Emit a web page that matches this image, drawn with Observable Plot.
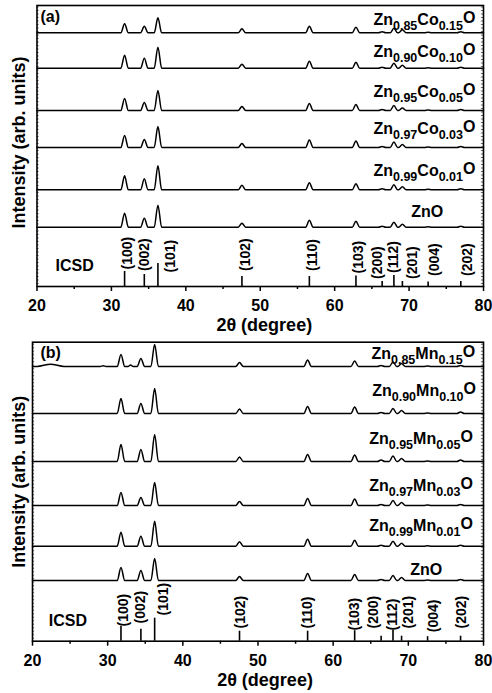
<!DOCTYPE html>
<html>
<head>
<meta charset="utf-8">
<script src="https://cdn.jsdelivr.net/npm/d3@7"></script>
<script src="https://cdn.jsdelivr.net/npm/@observablehq/plot@0.6"></script>
<style>
  body { margin: 0; background: #fff; }
  #chart { width: 492px; }
  #chart svg { display: block; }
  #chart svg text { font-weight: bold; fill: #000; }
</style>
</head>
<body>
<div id="chart"></div>
<script>
// Wurtzite ZnO reflections (ICSD reference pattern)
const hkl = ["(100)", "(002)", "(101)", "(102)", "(110)", "(103)", "(200)", "(112)", "(201)", "(004)", "(202)"];
const twoTheta = [31.77, 34.42, 36.25, 47.54, 56.60, 62.86, 66.38, 67.96, 69.10, 72.56, 76.95];
const icsdIntensity = [15, 12, 23, 10, 10, 10.5, 5, 11, 5, 4.5, 5];

// x axis ticks (degrees)
const xMajor = [20, 30, 40, 50, 60, 70, 80];
const xMinor = [25, 35, 45, 55, 65, 75];

// (a) Co-doped films: peak heights in hkl order, arb. units
const coNames = ["Zn_{0.85}Co_{0.15}O", "Zn_{0.90}Co_{0.10}O", "Zn_{0.95}Co_{0.05}O", "Zn_{0.97}Co_{0.03}O", "Zn_{0.99}Co_{0.01}O", "ZnO"];
const coZn085 = [9, 6.5, 15, 4, 6.5, 5.5, 1, 4.5, 3, 0.5, 1];
const coZn090 = [13, 10, 21, 4, 7, 6, 1, 5, 3, 0.5, 1];
const coZn095 = [12, 8, 20, 4, 7, 6, 1, 5, 2.5, 0.5, 1];
const coZn097 = [12, 8, 21, 4, 7.5, 6.5, 1, 5.5, 3, 0.5, 1];
const coZn099 = [14, 11, 24, 4.5, 7, 6, 1, 5, 3, 0.5, 1];
const coZnO   = [14, 9, 22, 4, 7, 6, 1, 5, 3, 0.5, 1];
const coStackOffset = [253.7, 218.3, 176, 139, 96.7, 59.3];

// (b) Mn-doped films: peak heights in hkl order, arb. units
const mnNames = ["Zn_{0.85}Mn_{0.15}O", "Zn_{0.90}Mn_{0.10}O", "Zn_{0.95}Mn_{0.05}O", "Zn_{0.97}Mn_{0.03}O", "Zn_{0.99}Mn_{0.01}O", "ZnO"];
const mnZn085 = [12, 8, 22, 4, 6.5, 5.5, 1, 4.5, 3, 0.5, 1];
const mnZn090 = [15, 10, 25, 4.5, 7, 6.5, 1, 5, 3, 0.5, 1.5];
const mnZn095 = [17, 12, 27, 4.5, 7, 6.5, 1.5, 5.5, 3, 0.5, 1.5];
const mnZn097 = [13, 8, 23, 4, 7, 6.5, 1, 5, 3, 0.5, 1];
const mnZn099 = [14, 10, 25, 4.5, 7, 6, 1, 5, 3, 0.5, 1];
const mnZnO   = [13, 10, 22, 4, 7, 6, 1, 5, 3, 0.5, 1];
const mnStackOffset = [274.7, 227.7, 179.7, 135.7, 95, 60.7];
// extra weak features of the 15% Mn film: [2θ, height, half width]
const mnZn085Extra = [[22.4, 2.3, 1.8], [29.4, 0.8, 0.4], [33.05, 1.5, 0.35]];

// annotation layout
const coLabelX = [78.92, 78.92, 78.92, 78.92, 78.92, 74.58];
const coLabelLift = [8, 11, 13.3, 13.7, 14, 10];
const mnLabelX = [78.9, 79.0, 78.6, 78.6, 78.6, 74.5];
const mnLabelLift = [7.7, 18, 18, 15, 15.7, 6];
const coHklX = [32.18, 34.47, 37.97, 48.06, 57.04, 63.27, 65.79, 67.94, 70.5, 73.37, 77.9];
const coHklY = [17, 15.5, 14, 15.5, 15.5, 13, 7.5, 13.5, 7.5, 10.5, 10.5];
const mnHklX = [32.14, 34.36, 37.46, 47.66, 56.53, 62.86, 65.39, 67.83, 70.04, 73.35, 77.14];
const mnHklY = [14.7, 17.7, 25.7, 12.7, 12.7, 10.7, 12.7, 10.7, 12.7, 9, 12.7];

const FONT = "'Liberation Sans', Arial, Helvetica, sans-serif";
const HALF = 0.5; // half base width of a reflection, degrees

// Vertices of one diffractogram: flat baseline with a peak at every reflection
function pattern(heights, extra = []) {
  const peaks = twoTheta.map((t, i) => [t, heights[i], HALF]).concat(extra).sort((a, b) => a[0] - b[0]);
  const pts = [[20, 0]];
  for (const [t, h, w] of peaks) pts.push([t - w, 0], [t, h], [t + w, 0]);
  pts.push([80, 0]);
  return pts;
}

function traces(series, offsets, extras) {
  const rows = [];
  series.forEach((heights, s) => {
    for (const [x, v] of pattern(heights, extras[s] || [])) rows.push({s, x, y: offsets[s] + v});
  });
  return rows;
}

// Turn "Zn_{0.85}Co_{0.15}O" into text with subscripts
function chemify(svg) {
  d3.select(svg).selectAll("text").each(function () {
    const raw = this.textContent;
    if (!raw.includes("_{")) return;
    const el = d3.select(this).text(null);
    const parts = raw.split(/(_\{[^}]*\})/).filter(Boolean);
    let shifted = false;
    parts.forEach((p, k) => {
      if (p.startsWith("_{")) {
        el.append("tspan").attr("dy", 5).attr("font-size", 12.5).text(p.slice(2, -1));
        shifted = true;
      } else {
        const t = el.append("tspan").text(p);
        if (shifted) t.attr("dy", k === parts.length - 1 ? -7 : -5);
        shifted = false;
      }
    });
  });
}

function panel(cfg) {
  const H = cfg.height - cfg.marginTop - cfg.marginBottom;
  const yTicks = d3.range(3, H, 3.5);
  const names = cfg.names.map((n, i) => ({n, x: cfg.labelX[i], y: cfg.offsets[i] + cfg.lift[i]}));
  const refl = hkl.map((h, i) => ({h, t: twoTheta[i], v: icsdIntensity[i], lx: cfg.hklX[i], ly: cfg.hklY[i]}));
  const svg = Plot.plot({
    width: 492,
    height: cfg.height,
    marginTop: cfg.marginTop,
    marginBottom: cfg.marginBottom,
    marginLeft: cfg.marginLeft,
    marginRight: 9,
    style: {fontFamily: FONT, fontWeight: "bold", fontSize: "16px", color: "black", background: "white", overflow: "visible"},
    x: {domain: [20, 80], inset: 0},
    y: {domain: [0, H], axis: null},
    marks: [
      Plot.ruleY(yTicks, {x1: 20, x2: 20.28, stroke: "#444", strokeWidth: 0.8}),
      Plot.ruleY(yTicks, {x1: 79.72, x2: 80, stroke: "#444", strokeWidth: 0.8}),
      Plot.line(traces(cfg.series, cfg.offsets, cfg.extras), {x: "x", y: "y", z: "s", curve: "monotone-x", stroke: "black", strokeWidth: 1.5}),
      Plot.ruleX(refl, {x: "t", y1: 0, y2: "v", stroke: "black", strokeWidth: 1.6}),
      Plot.text(refl, {x: "lx", y: "ly", text: "h", rotate: -90, textAnchor: "start", lineAnchor: "middle", fontSize: 14, fontWeight: "bold", fill: "black"}),
      Plot.text(names, {x: "x", y: "y", text: "n", textAnchor: "end", lineAnchor: "bottom", fontSize: 16, fontWeight: "bold", fill: "black"}),
      Plot.text([cfg.icsd], {x: d => d[0], y: d => d[1], text: ["ICSD"], textAnchor: "start", lineAnchor: "bottom", fontSize: 16, fontWeight: "bold", fill: "black"}),
      Plot.text([cfg.tag], {frameAnchor: "top-left", dx: cfg.tagDx, dy: cfg.tagDy, textAnchor: "start", lineAnchor: "top", fontSize: 16, fontWeight: "bold", fill: "black"}),
      Plot.text(["Intensity (arb. units)"], {frameAnchor: "left", rotate: -90, dx: cfg.yTitleDx, dy: cfg.yTitleDy, textAnchor: "middle", lineAnchor: "middle", fontSize: 18, fontWeight: "bold", fill: "black"}),
      Plot.text(["2θ (degree)"], {frameAnchor: "bottom", dx: cfg.xTitleDx, dy: 44.5, textAnchor: "middle", lineAnchor: "bottom", fontSize: 18, fontWeight: "bold", fill: "black"}),
      Plot.axisX(xMinor, {tickSize: 3, tickFormat: () => "", label: null, strokeWidth: 1.5}),
      Plot.axisX(xMajor, {tickSize: 5, tickPadding: 8, label: null, strokeWidth: 1.5, fontSize: 16, fontWeight: "bold", fill: "black"}),
      Plot.frame({stroke: "black", strokeWidth: 1.6})
    ]
  });
  chemify(svg);
  return svg;
}

const chart = document.getElementById("chart");

chart.append(panel({
  height: 335, marginTop: 5, marginBottom: 49, marginLeft: 36.5,
  names: coNames, series: [coZn085, coZn090, coZn095, coZn097, coZn099, coZnO],
  offsets: coStackOffset, lift: coLabelLift, labelX: coLabelX, extras: [],
  hklX: coHklX, hklY: coHklY, icsd: [22.5, 15.3], tag: "(a)", tagDx: 3.5, tagDy: 5.5,
  yTitleDx: -17.5, yTitleDy: -3.5, xTitleDx: 4
}));

chart.append(panel({
  height: 358, marginTop: 6.7, marginBottom: 52.3, marginLeft: 32,
  names: mnNames, series: [mnZn085, mnZn090, mnZn095, mnZn097, mnZn099, mnZnO],
  offsets: mnStackOffset, lift: mnLabelLift, labelX: mnLabelX, extras: [mnZn085Extra],
  hklX: mnHklX, hklY: mnHklY, icsd: [22.17, 15], tag: "(b)", tagDx: 8, tagDy: 4,
  yTitleDx: -13, yTitleDy: -10, xTitleDx: 7
}));
</script>
</body>
</html>
